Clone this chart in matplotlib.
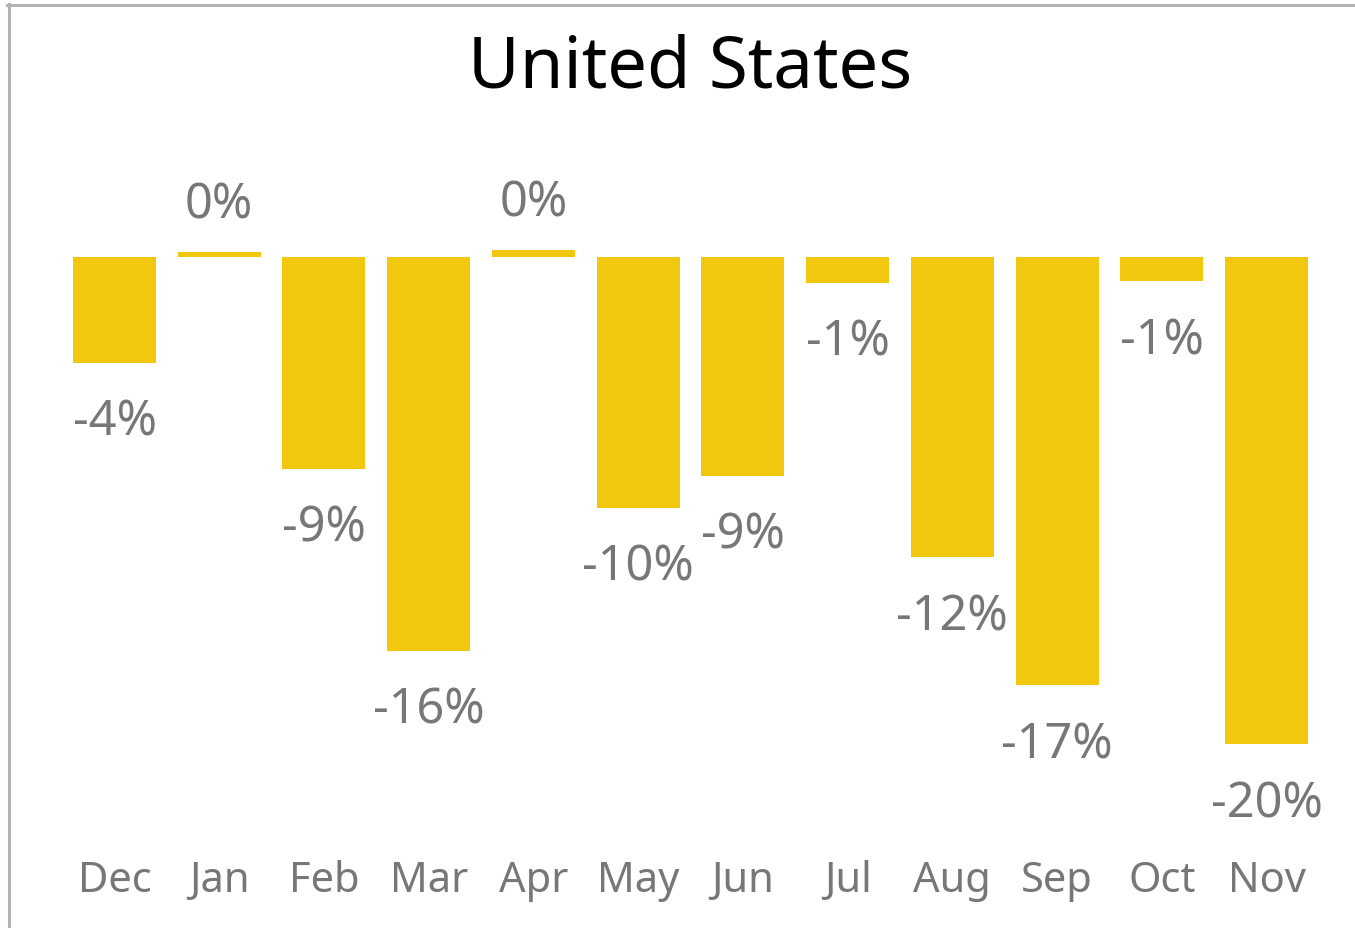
import matplotlib
matplotlib.use("Agg")
import matplotlib.pyplot as plt
from matplotlib.lines import Line2D

months = ["Dec", "Jan", "Feb", "Mar", "Apr", "May", "Jun", "Jul", "Aug", "Sep", "Oct", "Nov"]
change_pct = [-4.3, 0.2, -8.6, -16.0, 0.28, -10.2, -8.9, -1.05, -12.2, -17.4, -0.98, -19.8]

plt.rcParams['font.family'] = ['Noto Sans', 'DejaVu Sans']

W, H = 1355, 929
fig = plt.figure(figsize=(W / 100, H / 100), dpi=100)
fig.patch.set_facecolor('white')

# axes placed in pixel terms: zero line at y=258, ~24.6 px per percent
left, right = 62.15, 1318.85
top, bottom = 141, 831
ax = fig.add_axes([left / W, 1 - bottom / H, (right - left) / W, (bottom - top) / H])
ax.set_xlim(-0.5, len(months) - 0.5)
ax.set_ylim(-(bottom - 258) / 24.6, (258 - top) / 24.6)

x = range(len(months))
ax.bar(x, change_pct, width=0.793, color='#F2C80F', linewidth=0)

for i, v in enumerate(change_pct):
    off = 34.6 if v >= 0 else -42.5
    ax.annotate(f"{v:.0f}%".replace("-0%", "0%"), (i, v), xytext=(0, off), textcoords='offset points',
                ha='center', va='center', fontsize=35, color='#777777')

ax.set_xticks(list(x))
ax.set_xticklabels(months, fontsize=30, color='#777777')
ax.tick_params(axis='x', length=0, pad=21)
ax.set_yticks([])
for s in ax.spines.values():
    s.set_visible(False)

fig.text(690 / W, 1 - 88 / H, "United States", ha='center', va='baseline', fontsize=51, color='black')

# grey frame on top and left edge
fig.add_artist(Line2D([7 / W, 1], [1 - 5.5 / H, 1 - 5.5 / H], color='#B3B3B3', linewidth=2.2, transform=fig.transFigure))
fig.add_artist(Line2D([8.5 / W, 8.5 / W], [0, 1 - 4.5 / H], color='#B3B3B3', linewidth=2.2, transform=fig.transFigure))

fig.savefig("out.png", dpi=100)
